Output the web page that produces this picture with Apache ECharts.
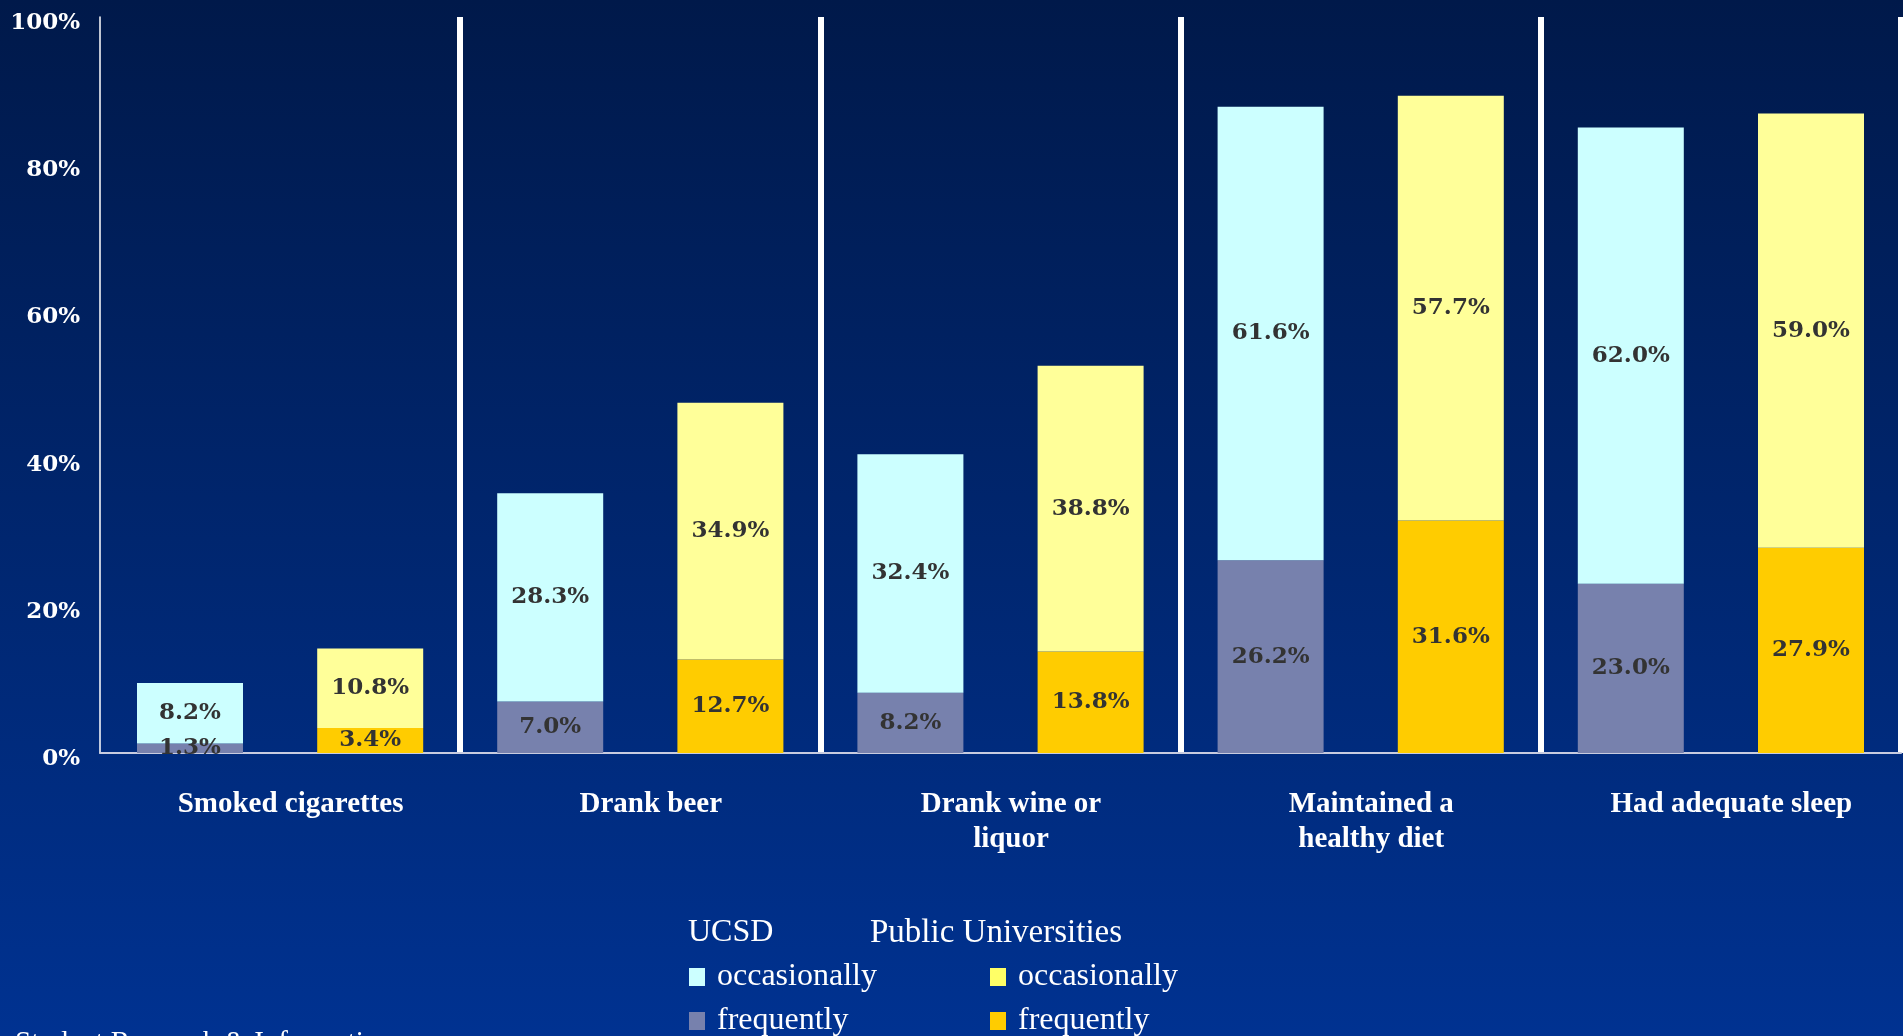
<!DOCTYPE html>
<html>
<head>
<meta charset="utf-8">
<title>Health behaviours: UCSD vs Public Universities</title>
<script src="https://cdn.jsdelivr.net/npm/echarts@6/dist/echarts.min.js"></script>
<style>
  html, body { margin: 0; padding: 0; width: 100%; height: 100%; overflow: hidden; }
  #chart { width: 1903px; height: 1036px; }
</style>
</head>
<body>
<div id="chart"></div>
<script>
// Survey categories (x axis)
const categories = [
  'Smoked cigarettes',
  'Drank beer',
  'Drank wine or\nliquor',
  'Maintained a\nhealthy diet',
  'Had adequate sleep'
];

// Percent of students, stacked: frequently (bottom) + occasionally (top)
const ucsdFrequently      = [1.3, 7.0, 8.2, 26.2, 23.0];
const ucsdOccasionally    = [8.2, 28.3, 32.4, 61.6, 62.0];
const publicFrequently    = [3.4, 12.7, 13.8, 31.6, 27.9];
const publicOccasionally  = [10.8, 34.9, 38.8, 57.7, 59.0];

// Value axis ticks
const yMin = 0;
const yMax = 100;
const yStep = 20;

const colors = {
  ucsdOcc: '#ccffff',
  ucsdFreq: '#7781ad',
  pubOcc: '#ffff99',
  pubFreq: '#ffcc00',
  pubOccKey: '#ffff66'
};

const valueLabel = {
  show: true,
  position: 'inside',
  formatter: p => p.value.toFixed(1) + '%',
  color: '#333333',
  fontFamily: 'DejaVu Serif',
  fontWeight: 'bold',
  fontSize: 23
};

function barSeries(name, stack, data, color) {
  return {
    name: name,
    type: 'bar',
    stack: stack,
    data: data,
    barWidth: 106,
    barGap: '70%',
    itemStyle: { color: color },
    label: valueLabel,
    emphasis: { disabled: true }
  };
}

const legendBase = {
  orient: 'vertical',
  icon: 'rect',
  itemWidth: 16,
  itemHeight: 18,
  itemGap: 12,
  padding: 0,
  top: 961,
  height: 160,
  formatter: name => name.split(' ').pop(),
  textStyle: {
    color: '#ffffff',
    fontFamily: 'Liberation Serif',
    fontSize: 32,
    padding: [0, 0, 0, 7]
  }
};

const chart = echarts.init(document.getElementById('chart'));

chart.setOption({
  animation: false,
  backgroundColor: {
    type: 'linear', x: 0, y: 0, x2: 0, y2: 1,
    colorStops: [
      { offset: 0, color: '#00194a' },
      { offset: 1, color: '#003291' }
    ]
  },
  grid: { left: 100, right: 2, top: 17, bottom: 283, containLabel: false },
  xAxis: {
    type: 'category',
    data: categories,
    axisLine: { show: true, lineStyle: { color: '#c8cce0', width: 2 } },
    axisTick: { show: false },
    splitLine: {
      show: true,
      showMinLine: false,
      showMaxLine: true,
      lineStyle: { color: '#ffffff', width: 6, type: 'solid' }
    },
    axisLabel: {
      interval: 0,
      margin: 34,
      color: '#ffffff',
      fontFamily: 'Liberation Serif',
      fontWeight: 'bold',
      fontSize: 29,
      lineHeight: 35,
      align: 'center',
      padding: [0, 0, 0, 21]
    }
  },
  yAxis: {
    type: 'value',
    min: yMin,
    max: yMax,
    interval: yStep,
    axisLine: { show: true, lineStyle: { color: '#ffffff', width: 1.5 } },
    axisTick: { show: false },
    splitLine: { show: false },
    axisLabel: {
      margin: 20,
      formatter: '{value}%',
      color: '#ffffff',
      fontFamily: 'DejaVu Serif',
      fontWeight: 'bold',
      fontSize: 23,
      verticalAlign: 'top',
      lineHeight: 12
    }
  },
  legend: [
    Object.assign({}, legendBase, {
      left: 689,
      data: ['UCSD occasionally', 'UCSD frequently']
    }),
    Object.assign({}, legendBase, {
      left: 990,
      data: [
        { name: 'Public Universities occasionally', itemStyle: { color: colors.pubOccKey } },
        'Public Universities frequently'
      ]
    })
  ],
  graphic: [
    {
      type: 'text', left: 688, top: 917,
      style: { text: 'UCSD', fill: '#ffffff', font: '32px "Liberation Serif"' }
    },
    {
      type: 'text', left: 870, top: 917,
      style: { text: 'Public Universities', fill: '#ffffff', font: '33px "Liberation Serif"' }
    },
    {
      type: 'text', left: 15, top: 1029,
      style: { text: 'Student Research & Information', fill: '#ffffff', font: '29px "Liberation Serif"' }
    }
  ],
  series: [
    barSeries('UCSD frequently', 'ucsd', ucsdFrequently, colors.ucsdFreq),
    barSeries('UCSD occasionally', 'ucsd', ucsdOccasionally, colors.ucsdOcc),
    barSeries('Public Universities frequently', 'public', publicFrequently, colors.pubFreq),
    barSeries('Public Universities occasionally', 'public', publicOccasionally, colors.pubOcc)
  ]
});
</script>
</body>
</html>
